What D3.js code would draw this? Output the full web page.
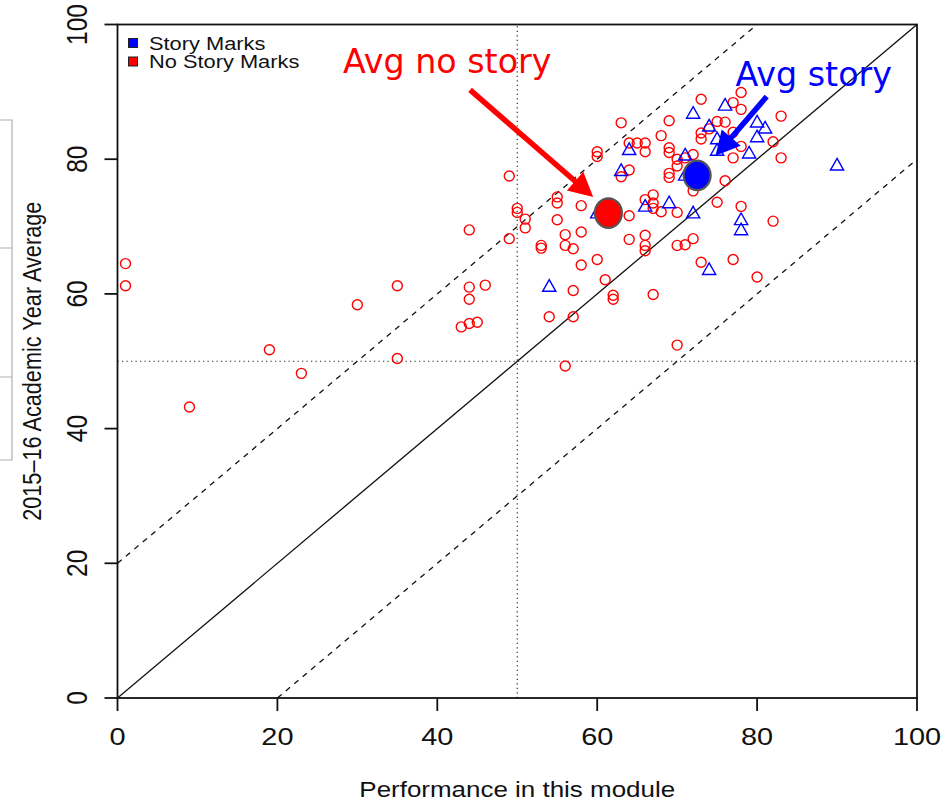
<!DOCTYPE html>
<html>
<head>
<meta charset="utf-8">
<script src="https://cdn.jsdelivr.net/npm/d3@7"></script>
<style>
    body { margin: 0; background: #fff; }
    svg { display: block; font-family: 'Liberation Sans', Arial, sans-serif; }
</style>
</head>
<body>
<div id="chart"></div>
<script>
// [module mark, 2015-16 academic year average]
const storyMarks = [
    [54, 61.1], [64, 81.4], [63, 78.3], [66, 73.0], [69, 73.5], [72, 86.8],
    [76, 88.0], [80, 85.5], [81, 84.6], [80, 83.3], [79, 80.9], [74, 84.9],
    [75, 83.0], [75, 81.3], [71, 80.6], [90, 79.1], [72, 72.0], [78, 71.0],
    [78, 69.5], [74, 63.6], [60, 72.0], [71, 77.6]
];
const noStoryMarks = [
    [1, 64.5], [1, 61.2], [9, 43.2], [19, 51.7], [23, 48.2], [30, 58.4],
    [35, 61.2], [35, 50.4], [43, 55.1], [44, 55.6], [45, 55.8], [44, 59.2],
    [44, 61.0], [46, 61.3], [44, 69.5],
    [49, 77.5], [49, 68.2], [50, 72.7], [50, 72.1], [51, 71.1], [51, 69.8],
    [53, 67.2], [53, 66.8], [54, 56.6], [55, 74.4], [55, 73.5], [55, 71.0],
    [56, 68.8], [56, 67.2], [56, 49.3], [57, 66.7], [57, 60.5], [57, 56.6],
    [58, 73.1], [58, 69.2], [58, 64.3], [60, 81.1], [60, 80.4], [60, 65.1],
    [61, 62.1], [62, 59.8], [62, 59.2], [63, 85.4], [63, 77.4], [64, 82.4],
    [64, 78.4], [64, 71.6], [64, 68.1], [65, 82.4], [66, 82.4], [66, 81.1],
    [66, 74.0], [66, 68.7], [66, 67.2], [66, 66.4], [67, 74.7], [67, 73.5],
    [67, 72.7], [67, 59.9], [68, 83.5], [68, 72.2], [69, 85.7], [69, 81.7],
    [69, 81.0], [69, 77.9], [69, 77.3], [70, 80.0], [70, 79.0], [70, 72.1],
    [70, 67.2], [70, 52.4], [71, 80.2], [71, 67.3], [72, 80.7], [72, 75.3],
    [72, 68.2], [73, 88.9], [73, 83.9], [73, 83.0], [73, 64.7], [74, 84.5],
    [75, 85.6], [75, 73.6], [76, 85.5], [76, 76.8], [77, 88.4], [77, 84.0],
    [77, 80.2], [77, 65.1], [78, 89.9], [78, 87.4], [78, 81.9], [78, 73.0],
    [80, 62.5], [82, 82.6], [82, 70.8], [83, 86.4], [83, 80.2]
];
const avgStory = [72.5, 77.6];
const avgNoStory = [61.4, 72.0];
const tickValues = [0, 20, 40, 60, 80, 100];
const legendLabels = ['Story Marks', 'No Story Marks'];
const legendColors = ['#0000ff', '#ff0000'];
// reference lines y = x + offset
const lineOffsets = [0, 20, -20];

const width = 945;
const height = 804;
const sx = 1.18; // the picture is stretched horizontally

const svg = d3.select('#chart')
    .append('svg')
    .attr('width', width)
    .attr('height', height);

const x = d3.scaleLinear().domain([0, 100]).range([117.5, 917]);
const y = d3.scaleLinear().domain([0, 100]).range([698, 24.5]);

// leftover frame from a neighbouring figure
svg.append('path')
    .attr('d', 'M0,120H12V460H0M0,248H12M0,377H12')
    .attr('fill', 'none')
    .attr('stroke', '#b0b0b0')
    .attr('stroke-width', 1.2);

// dotted 50 lines
svg.append('line')
    .attr('x1', x(50)).attr('x2', x(50))
    .attr('y1', y(0)).attr('y2', y(100))
    .attr('stroke', '#333').attr('stroke-width', 1.2)
    .attr('stroke-dasharray', '1.3,3.2');
svg.append('line')
    .attr('x1', x(0)).attr('x2', x(100))
    .attr('y1', y(50)).attr('y2', y(50))
    .attr('stroke', '#333').attr('stroke-width', 1.2)
    .attr('stroke-dasharray', '1.3,3.2');

lineOffsets.forEach(off => {
    const x0 = Math.max(0, -off);
    const x1 = Math.min(100, 100 - off);
    svg.append('line')
        .attr('x1', x(x0)).attr('y1', y(x0 + off))
        .attr('x2', x(x1)).attr('y2', y(x1 + off))
        .attr('stroke', '#111')
        .attr('stroke-width', 1.3)
        .attr('stroke-dasharray', off === 0 ? null : '5.5,5.5');
});

svg.append('g')
    .selectAll('circle')
    .data(noStoryMarks)
    .enter()
    .append('circle')
    .attr('cx', d => x(d[0]))
    .attr('cy', d => y(d[1]))
    .attr('r', 5)
    .attr('fill', 'none')
    .attr('stroke', '#ff0000')
    .attr('stroke-width', 1.4);

svg.append('g')
    .selectAll('path')
    .data(storyMarks)
    .enter()
    .append('path')
    .attr('d', 'M0,-6.8L6.6,4.8L-6.6,4.8Z')
    .attr('transform', d => `translate(${x(d[0])},${y(d[1])})`)
    .attr('fill', 'none')
    .attr('stroke', '#0000ff')
    .attr('stroke-width', 1.4);

[[avgNoStory, '#ff0000'], [avgStory, '#0000ff']].forEach(([p, col]) => {
    svg.append('ellipse')
        .attr('cx', x(p[0]))
        .attr('cy', y(p[1]))
        .attr('rx', 13.5)
        .attr('ry', 14.8)
        .attr('fill', col)
        .attr('stroke', '#555')
        .attr('stroke-width', 2.2);
});

// annotation arrows
function arrow(from, to, color) {
    const x0 = x(from[0]), y0 = y(from[1]);
    const x1 = x(to[0]), y1 = y(to[1]);
    const len = Math.hypot(x1 - x0, y1 - y0);
    const ux = (x1 - x0) / len, uy = (y1 - y0) / len;
    const headLen = 24, headW = 12.5;
    const bx = x1 - ux * headLen, by = y1 - uy * headLen;
    svg.append('line')
        .attr('x1', x0).attr('y1', y0)
        .attr('x2', bx + ux * 2).attr('y2', by + uy * 2)
        .attr('stroke', color)
        .attr('stroke-width', 5.5);
    svg.append('path')
        .attr('d', `M${x1},${y1}L${bx - uy * headW},${by + ux * headW}L${bx + uy * headW},${by - ux * headW}Z`)
        .attr('fill', color);
}
arrow([44.1, 90.3], [59.5, 74.4], '#ff0000');
arrow([81.2, 89.3], [74.8, 80.5], '#0000ff');

svg.append('text')
    .attr('x', x(28.2)).attr('y', y(92.8))
    .attr('font-family', 'DejaVu Sans')
    .attr('font-size', 33.3)
    .attr('fill', '#ff0000')
    .text('Avg no story');
svg.append('text')
    .attr('x', x(77.3)).attr('y', y(90.8))
    .attr('font-family', 'DejaVu Sans')
    .attr('font-size', 33.3)
    .attr('fill', '#0000ff')
    .text('Avg story');

// legend
const legend = svg.append('g');
legendLabels.forEach((lab, i) => {
    legend.append('rect')
        .attr('x', 128.5).attr('y', 38.5 + i * 18.5)
        .attr('width', 9).attr('height', 9)
        .attr('fill', legendColors[i])
        .attr('stroke', '#222')
        .attr('stroke-width', 1);
    legend.append('text')
        .attr('transform', `translate(149,${50 + i * 18.3}) scale(${sx},1)`)
        .attr('font-size', 18.5)
        .attr('fill', '#111')
        .text(lab);
});

// axes and box
svg.append('rect')
    .attr('x', x(0)).attr('y', y(100))
    .attr('width', x(100) - x(0))
    .attr('height', y(0) - y(100))
    .attr('fill', 'none')
    .attr('stroke', '#111')
    .attr('stroke-width', 1.8);

const xAxis = svg.append('g');
tickValues.forEach(v => {
    xAxis.append('line')
        .attr('x1', x(v)).attr('x2', x(v))
        .attr('y1', y(0)).attr('y2', y(0) + 13)
        .attr('stroke', '#111').attr('stroke-width', 1.8);
    xAxis.append('text')
        .attr('transform', `translate(${x(v)},745) scale(${sx},1)`)
        .attr('text-anchor', 'middle')
        .attr('font-size', 24.5)
        .attr('fill', '#111')
        .text(v);
});

const yAxis = svg.append('g');
tickValues.forEach(v => {
    yAxis.append('line')
        .attr('x1', x(0) - 13).attr('x2', x(0))
        .attr('y1', y(v)).attr('y2', y(v))
        .attr('stroke', '#111').attr('stroke-width', 1.8);
    yAxis.append('text')
        .attr('transform', `translate(87,${y(v)}) scale(${sx},1) rotate(-90)`)
        .attr('text-anchor', 'middle')
        .attr('font-size', 24.5)
        .attr('fill', '#111')
        .text(v);
});

svg.append('text')
    .attr('transform', `translate(${(x(0) + x(100)) / 2},797) scale(${sx},1)`)
    .attr('text-anchor', 'middle')
    .attr('font-size', 22)
    .attr('fill', '#111')
    .text('Performance in this module');

svg.append('text')
    .attr('transform', `translate(41,${(y(0) + y(100)) / 2}) scale(${sx},1) rotate(-90)`)
    .attr('text-anchor', 'middle')
    .attr('font-size', 21.7)
    .attr('fill', '#111')
    .text('2015\u201316 Academic Year Average');
</script>
</body>
</html>
